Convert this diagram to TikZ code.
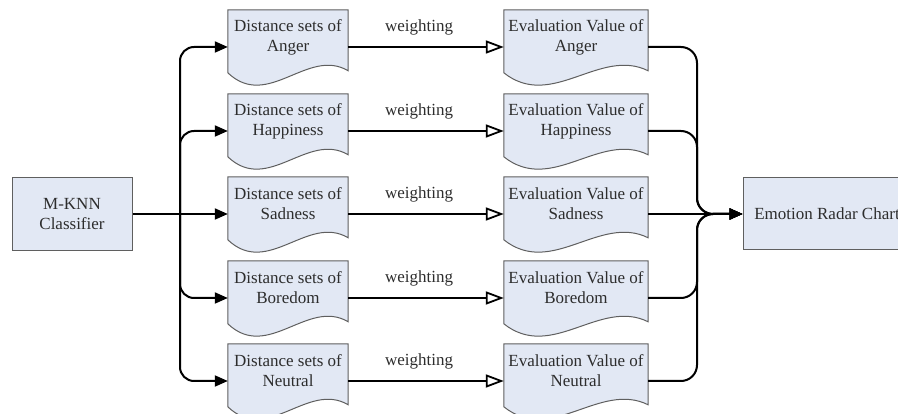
\documentclass[tikz,border=0pt]{standalone}
\usepackage{fontspec}
\setmainfont{Liberation Serif}
\usetikzlibrary{arrows.meta,calc,backgrounds}
\definecolor{boxfill}{RGB}{226,232,244}
\definecolor{boxline}{RGB}{95,95,95}
\definecolor{txt}{RGB}{45,45,45}
\begin{document}
\begin{tikzpicture}[x=1pt,y=-1pt,
  font=\fontsize{17}{20}\selectfont,
  boxstyle/.style={fill=boxfill, draw=boxline, line width=1pt},
  txtnode/.style={align=center, text=txt, inner sep=0pt, minimum width=#1, minimum height=54pt},
  plainbox/.style={boxstyle, align=center, text=txt, inner sep=0pt},
  conn/.style={line width=2pt, black},
  fillarrow/.style={-{Triangle[length=13pt,width=11pt]}},
  openarrow/.style={-{Triangle[open,length=18pt,width=13pt,line width=1.8pt]}}
]
\useasboundingbox (0,0) rectangle (898,414);

% left box and right box
\node[plainbox, minimum width=120pt, minimum height=73pt] (mknn) at (72,214) {M-KNN\\Classifier};
\node[plainbox, minimum width=168pt, minimum height=72pt] (radar) at (827,214) {Emotion Radar Chart};

% text nodes of the document boxes
\node[txtnode=120pt] (d1) at (288,37)  {Distance sets of\\Anger};
\node[txtnode=120pt] (d2) at (288,121) {Distance sets of\\Happiness};
\node[txtnode=120pt] (d3) at (288,204) {Distance sets of\\Sadness};
\node[txtnode=120pt] (d4) at (288,288) {Distance sets of\\Boredom};
\node[txtnode=120pt] (d5) at (288,371) {Distance sets of\\Neutral};

\node[txtnode=144pt] (e1) at (576,37)  {Evaluation Value of\\Anger};
\node[txtnode=144pt] (e2) at (576,121) {Evaluation Value of\\Happiness};
\node[txtnode=144pt] (e3) at (576,204) {Evaluation Value of\\Sadness};
\node[txtnode=144pt] (e4) at (576,288) {Evaluation Value of\\Boredom};
\node[txtnode=144pt] (e5) at (576,371) {Evaluation Value of\\Neutral};

% document shapes
\begin{scope}[on background layer]
\foreach \n/\w in {d1/120,d2/120,d3/120,d4/120,d5/120,e1/144,e2/144,e3/144,e4/144,e5/144}{
  \path[boxstyle] (\n.north west) -- ($(\n.north west)+(0,63)$)
    .. controls ($(\n.north west)+(\w/3,101)$) and ($(\n.north west)+(2*\w/3,37)$)
    .. ($(\n.north east)+(0,61)$) -- (\n.north east) -- cycle;
}
\end{scope}

% split and merge points
\coordinate (split) at (180,214);
\coordinate (merge) at (697,214);

% classifier to distance sets
\draw[conn, fillarrow] (mknn.east) -- ([yshift=-10pt]d3.west);
\foreach \n in {d1,d2,d4,d5}{
  \draw[conn, fillarrow, rounded corners=14pt] (split) |- ([yshift=-10pt]\n.west);
}

% weighting arrows
\foreach \k in {1,...,5}{
  \draw[conn, line width=1.8pt, openarrow] ([yshift=-10pt]d\k.east) --
    node[pos=0.455, yshift=20pt, text=txt] {weighting} ([yshift=-10pt]e\k.west);
}

% merge into radar chart
\draw[conn, fillarrow] ([yshift=-10pt]e3.east) -- (radar.west);
\foreach \n in {e1,e2,e4,e5}{
  \draw[conn, fillarrow, rounded corners=16pt] ([yshift=-10pt]\n.east) -| (merge) -- (radar.west);
}
\end{tikzpicture}
\end{document}
